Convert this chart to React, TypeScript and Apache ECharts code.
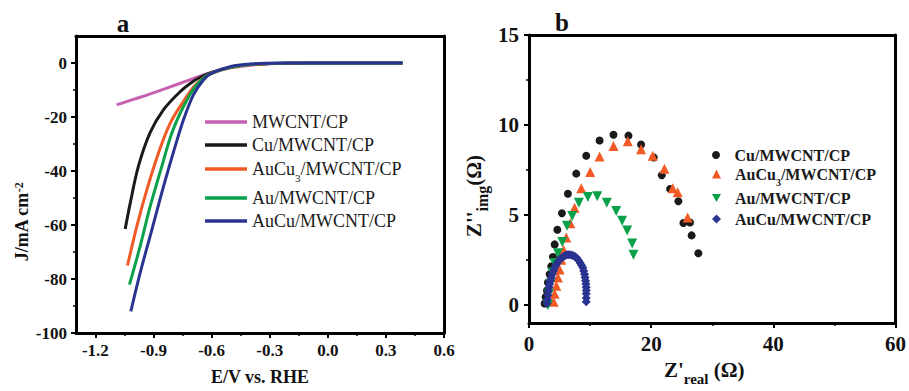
import React, { useEffect, useRef } from "react";
import * as echarts from "echarts";

const FONT = "Liberation Serif";

// ---------- Panel a: LSV curves (E / V vs RHE, J / mA cm^-2) ----------
const lsvNames = ["MWCNT/CP", "Cu/MWCNT/CP", "AuCu3/MWCNT/CP", "Au/MWCNT/CP", "AuCu/MWCNT/CP"];
const lsvColors = ["#c75fb2", "#1a1a1a", "#f15a24", "#0ba14b", "#2b3391"];

const mwcntLsv = [
  [-1.09, -15.5], [-1.0, -13.4], [-0.934, -11.9], [-0.85, -9.8], [-0.762, -7.5],
  [-0.7, -5.9], [-0.65, -4.6], [-0.6, -3.5], [-0.5, -1.8], [-0.4, -0.8],
  [-0.3, -0.3], [-0.2, -0.1], [-0.1, 0], [0.1, 0], [0.386, 0],
];
const cuLsv = [
  [-1.046, -61.5], [-1.02, -51.9], [-0.978, -38.3], [-0.918, -25.9], [-0.848, -17.3],
  [-0.762, -10.6], [-0.7, -7.0], [-0.65, -5.0], [-0.6, -3.5], [-0.5, -1.6],
  [-0.4, -0.6], [-0.3, -0.2], [-0.2, -0.05], [0.0, 0], [0.386, 0],
];
const aucu3Lsv = [
  [-1.034, -75.0], [-0.986, -60.5], [-0.934, -46.9], [-0.874, -33.3], [-0.813, -22.2],
  [-0.745, -14.2], [-0.69, -8.6], [-0.64, -5.4], [-0.6, -3.8], [-0.5, -1.6],
  [-0.4, -0.6], [-0.3, -0.2], [-0.2, -0.05], [0.0, 0], [0.386, 0],
];
const auLsv = [
  [-1.024, -82.1], [-0.969, -67.9], [-0.917, -53.1], [-0.857, -38.3], [-0.805, -25.9],
  [-0.745, -16.1], [-0.684, -8.7], [-0.64, -5.5], [-0.6, -3.8], [-0.5, -1.5],
  [-0.4, -0.5], [-0.3, -0.15], [-0.2, -0.04], [0.0, 0], [0.386, 0],
];
const aucuLsv = [
  [-1.017, -92.0], [-0.969, -77.8], [-0.908, -61.7], [-0.848, -45.7], [-0.788, -30.9],
  [-0.745, -21.0], [-0.693, -11.7], [-0.641, -6.2], [-0.6, -3.8], [-0.5, -1.3],
  [-0.4, -0.4], [-0.3, -0.1], [-0.2, 0], [0.0, 0], [0.386, 0],
];
const lsvData = [mwcntLsv, cuLsv, aucu3Lsv, auLsv, aucuLsv];

const lsvXLabels = [-1.2, -0.9, -0.6, -0.3, 0.0, 0.3, 0.6];
const lsvXMinor = [-1.05, -0.75, -0.45, -0.15, 0.15, 0.45];
const lsvYLabels = [-100, -80, -60, -40, -20, 0];
const lsvYMinor = [-90, -70, -50, -30, -10];
const lsvLegendRows = [122, 145, 169, 198, 221];

// ---------- Panel b: Nyquist plots (Z'real, Z''img in ohm) ----------
const eisNames = ["Cu/MWCNT/CP", "AuCu3/MWCNT/CP", "Au/MWCNT/CP", "AuCu/MWCNT/CP"];
const eisColors = ["#1a1a1a", "#f15a24", "#0ba14b", "#2b3391"];
const downTri = "path://M0,0 L10,0 L5,9 Z";
const eisSymbols = ["circle", "triangle", downTri, "diamond"];

const cuEis = [
  [2.56, 0.09], [2.72, 0.45], [2.94, 0.81], [3.10, 1.26], [3.38, 1.71], [3.65, 2.16],
  [3.92, 2.67], [4.20, 3.37], [4.64, 4.18], [5.39, 5.10], [6.37, 6.18], [7.74, 7.30],
  [9.37, 8.29], [11.55, 9.14], [13.83, 9.46], [16.28, 9.41], [18.35, 8.92], [20.42, 8.20],
  [21.73, 7.21], [23.09, 6.45], [24.45, 5.77], [25.27, 4.56], [26.36, 4.59], [26.62, 3.87],
  [27.72, 2.88],
];
const aucu3Eis = [
  [4.03, 0.18], [4.20, 0.63], [4.47, 1.08], [4.74, 1.53], [5.01, 1.98], [5.29, 2.52],
  [5.67, 3.06], [6.10, 3.75], [6.76, 4.54], [7.46, 5.41], [8.55, 6.49], [10.02, 7.39],
  [11.55, 8.25], [13.83, 8.83], [16.17, 9.10], [18.35, 8.65], [20.25, 8.29], [22.16, 7.57],
  [23.52, 6.49], [24.34, 6.27], [25.97, 4.86],
];
const auEis = [
  [3.10, 0.0], [3.27, 0.63], [3.49, 1.17], [3.82, 1.80], [4.20, 2.34], [4.74, 2.88],
  [5.45, 3.51], [6.21, 4.41], [7.08, 4.95], [8.17, 5.68], [9.64, 6.00], [11.17, 6.04],
  [12.74, 5.68], [14.27, 5.23], [15.25, 4.68], [16.07, 4.14], [16.89, 3.42], [17.10, 2.79],
];
const aucuEis = [
  [2.94, 0.09], [3.02, 0.32], [3.10, 0.54], [3.18, 0.77], [3.27, 0.99], [3.38, 1.17],
  [3.49, 1.35], [3.65, 1.53], [3.82, 1.71], [4.01, 1.89], [4.20, 2.07], [4.42, 2.21],
  [4.64, 2.34], [4.88, 2.46], [5.13, 2.58], [5.40, 2.65], [5.67, 2.70], [5.94, 2.75],
  [6.21, 2.79], [6.48, 2.80], [6.76, 2.79], [7.03, 2.77], [7.30, 2.74], [7.57, 2.68],
  [7.84, 2.61], [8.12, 2.48], [8.39, 2.34], [8.61, 2.21], [8.82, 2.07], [8.96, 1.89],
  [9.10, 1.71], [9.18, 1.53], [9.26, 1.35], [9.32, 1.17], [9.37, 0.99], [9.37, 0.81],
  [9.37, 0.63], [9.37, 0.40], [9.37, 0.18],
];
const eisData = [cuEis, aucu3Eis, auEis, aucuEis];
const eisSizes = [8, 10, 10, 9];

const eisXLabels = [0, 20, 40, 60];
const eisXMinor = [10, 30, 50];
const eisYLabels = [0, 5, 10, 15];
const eisYMinor = [2.5, 7.5, 12.5];
const eisLegendRows = [155, 174, 198, 219];

const legendFormatter = (name: string) =>
  name.startsWith("AuCu3")
    ? "{f|AuCu}{s|3}{n|" + name.slice(5) + "}"
    : "{f|" + name + "}";

function makeAxisLine() {
  return { show: true, onZero: false, lineStyle: { color: "#000000", width: 3, opacity: 1 } };
}
function makeNoLine() {
  return { show: false, onZero: false };
}
function makeTick(vals: number[], len: number, w: number) {
  return { show: true, inside: false, length: len, customValues: vals, lineStyle: { color: "#000000", width: w, opacity: 1 } };
}

export default function App() {
  const ref = useRef<HTMLDivElement>(null);

  useEffect(() => {
    if (!ref.current) return;
    const chart = echarts.init(ref.current, null, { renderer: "svg" });

    const lsvLegends = lsvNames.map((n, i) => ({
      data: [{ name: n, icon: "rect" }],
      left: 205,
      top: lsvLegendRows[i] - 9,
      padding: 0,
      itemWidth: 42,
      itemHeight: 3.5,
      selectedMode: false,
      formatter: legendFormatter,
      textStyle: {
        fontFamily: FONT, color: "#1a1a1a",
        rich: {
          f: { fontFamily: FONT, fontSize: 18, color: "#1a1a1a", lineHeight: 18 },
          n: { fontFamily: FONT, fontSize: 18, color: "#1a1a1a", lineHeight: 18 },
          s: { fontFamily: FONT, fontSize: 11, color: "#1a1a1a", verticalAlign: "bottom", lineHeight: 11, padding: [0, 0, -5, 0] },
        },
      },
    }));

    const eisLegends = eisNames.map((n, i) => ({
      data: [{ name: n, icon: eisSymbols[i] }],
      left: 712,
      top: eisLegendRows[i] - 8,
      padding: 0,
      itemWidth: 9,
      itemHeight: i === 0 ? 8 : 9,
      selectedMode: false,
      formatter: legendFormatter,
      textStyle: {
        fontFamily: FONT, color: "#1a1a1a",
        rich: {
          f: { fontFamily: FONT, fontSize: 16, fontWeight: "bold", color: "#1a1a1a", lineHeight: 16, padding: [0, 0, 0, 9] },
          n: { fontFamily: FONT, fontSize: 16, fontWeight: "bold", color: "#1a1a1a", lineHeight: 16 },
          s: { fontFamily: FONT, fontSize: 10, fontWeight: "bold", color: "#1a1a1a", verticalAlign: "bottom", lineHeight: 10, padding: [0, 0, -5, 0] },
        },
      },
    }));

    const frameAxis = (grid: number, position: string, min: number, max: number) => ({
      type: "value", gridIndex: grid, position, min, max,
      axisLine: makeAxisLine(), axisTick: { show: false }, axisLabel: { show: false }, splitLine: { show: false },
    });

    const option: any = {
      animation: false,
      backgroundColor: "#fff",
      grid: [
        { left: 76, top: 36, width: 368, height: 297 },
        { left: 529, top: 35, width: 368, height: 298 },
      ],
      legend: [...lsvLegends, ...eisLegends],
      xAxis: [
        {
          type: "value", gridIndex: 0, position: "bottom", min: -1.3, max: 0.6,
          axisLine: makeAxisLine(), axisTick: makeTick(lsvXLabels, 5, 2), splitLine: { show: false },
          axisLabel: {
            customValues: lsvXLabels, margin: 9,
            fontFamily: FONT, fontSize: 17, fontWeight: "bold", color: "#111",
            formatter: (v: number) => v.toFixed(1),
          },
          name: "E/V vs. RHE", nameLocation: "middle", nameGap: 35,
          nameTextStyle: { fontFamily: FONT, fontSize: 18, fontWeight: "bold", color: "#111" },
        },
        {
          type: "value", gridIndex: 1, position: "bottom", min: 0, max: 60,
          axisLine: makeAxisLine(), axisTick: makeTick(eisXLabels, 5, 2), splitLine: { show: false },
          axisLabel: {
            customValues: eisXLabels, margin: 10,
            fontFamily: FONT, fontSize: 21, fontWeight: "bold", color: "#111",
          },
          name: "{z|Z'}{sub|real}{z| (Ω)}", nameLocation: "middle", nameGap: 34,
          nameTextStyle: {
            fontFamily: FONT, fontSize: 20, fontWeight: "bold", color: "#111", padding: [0, 16, 0, 0],
            rich: {
              z: { fontFamily: FONT, fontSize: 21, fontWeight: "bold", color: "#111" },
              sub: { fontFamily: FONT, fontSize: 15, fontWeight: "bold", color: "#111", verticalAlign: "bottom", padding: [0, 0, -6, 0] },
            },
          },
        },
        {
          type: "value", gridIndex: 0, position: "bottom", min: -1.3, max: 0.6,
          axisLine: makeNoLine(), axisTick: makeTick(lsvXMinor, 3, 1.5),
          axisLabel: { show: false }, splitLine: { show: false },
        },
        {
          type: "value", gridIndex: 1, position: "bottom", min: 0, max: 60,
          axisLine: makeNoLine(), axisTick: makeTick(eisXMinor, 3, 1.5),
          axisLabel: { show: false }, splitLine: { show: false },
        },
        frameAxis(0, "top", -1.3, 0.6),
        frameAxis(1, "top", 0, 60),
      ],
      yAxis: [
        {
          type: "value", gridIndex: 0, position: "left", min: -100, max: 10,
          axisLine: makeAxisLine(), axisTick: makeTick(lsvYLabels, 5, 2), splitLine: { show: false },
          axisLabel: {
            customValues: lsvYLabels, margin: 9,
            fontFamily: FONT, fontSize: 17, fontWeight: "bold", color: "#111",
          },
        },
        {
          type: "value", gridIndex: 1, position: "left", min: -1, max: 15,
          axisLine: makeAxisLine(), axisTick: makeTick(eisYLabels, 5, 2), splitLine: { show: false },
          axisLabel: {
            customValues: eisYLabels, margin: 10,
            fontFamily: FONT, fontSize: 21, fontWeight: "bold", color: "#111",
          },
        },
        {
          type: "value", gridIndex: 0, position: "left", min: -100, max: 10,
          axisLine: makeNoLine(), axisTick: makeTick(lsvYMinor, 3, 1.5),
          axisLabel: { show: false }, splitLine: { show: false },
        },
        {
          type: "value", gridIndex: 1, position: "left", min: -1, max: 15,
          axisLine: makeNoLine(), axisTick: makeTick(eisYMinor, 3, 1.5),
          axisLabel: { show: false }, splitLine: { show: false },
        },
        frameAxis(0, "right", -100, 10),
        frameAxis(1, "right", -1, 15),
      ],
      graphic: [
        { type: "text", x: 123, y: 23, style: { text: "a", fontFamily: FONT, fontSize: 25, fontWeight: "bold", fill: "#111", textAlign: "center", textVerticalAlign: "middle" } },
        { type: "text", x: 562, y: 22, style: { text: "b", fontFamily: FONT, fontSize: 25, fontWeight: "bold", fill: "#111", textAlign: "center", textVerticalAlign: "middle" } },
        {
          type: "text", x: 22, y: 222, rotation: Math.PI / 2,
          style: {
            text: "{n|J/mA cm}{sup|-2}", textAlign: "center", textVerticalAlign: "middle",
            rich: {
              n: { fontFamily: FONT, fontSize: 18, fontWeight: "bold", fill: "#111", lineHeight: 19 },
              sup: { fontFamily: FONT, fontSize: 12, fontWeight: "bold", fill: "#111", verticalAlign: "top", lineHeight: 12 },
            },
          },
        },
        {
          type: "text", x: 474, y: 196, rotation: Math.PI / 2,
          style: {
            text: "{n|Z''}{sub|img}{n|(Ω)}", textAlign: "center", textVerticalAlign: "middle",
            rich: {
              n: { fontFamily: FONT, fontSize: 21, fontWeight: "bold", fill: "#111" },
              sub: { fontFamily: FONT, fontSize: 16, fontWeight: "bold", fill: "#111", verticalAlign: "bottom", padding: [0, 0, -6, 0] },
            },
          },
        },
      ],
      series: [
        ...lsvNames.map((n, i) => ({
          name: n, type: "line", xAxisIndex: 0, yAxisIndex: 0,
          data: lsvData[i], smooth: 0.35, showSymbol: false, symbol: "none",
          lineStyle: { color: lsvColors[i], width: 3 }, itemStyle: { color: lsvColors[i] },
          z: 2 + i,
        })),
        ...eisNames.map((n, i) => ({
          name: n, type: "scatter", xAxisIndex: 1, yAxisIndex: 1,
          data: eisData[i], symbol: eisSymbols[i], symbolSize: eisSizes[i],
          itemStyle: { color: eisColors[i], opacity: 1 },
          z: 2 + i,
        })),
      ],
    };

    chart.setOption(option);
    return () => chart.dispose();
  }, []);

  return <div ref={ref} style={{ position: "fixed", left: 0, top: 0, width: 909, height: 391 }} />;
}
